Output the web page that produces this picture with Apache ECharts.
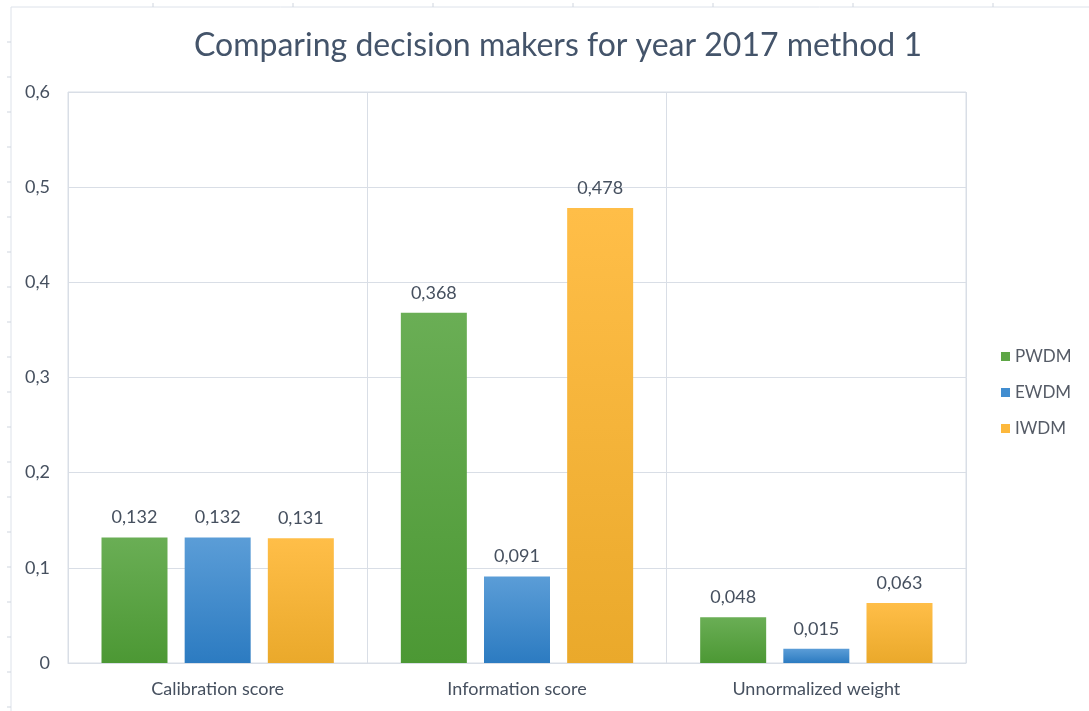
<!DOCTYPE html>
<html>
<head>
<meta charset="utf-8">
<script src="https://cdn.jsdelivr.net/npm/echarts@6/dist/echarts.min.js"></script>
<style>
  html, body { margin: 0; padding: 0; background: #ffffff; }
  #chart { width: 1089px; height: 711px; }
</style>
</head>
<body>
<div id="chart"></div>
<script>
// Scores per decision maker, 2017, method 1
const categories = ['Calibration score', 'Information score', 'Unnormalized weight'];
const pwdm = [0.132, 0.368, 0.048];
const ewdm = [0.132, 0.091, 0.015];
const iwdm = [0.131, 0.478, 0.063];
const yTicks = [0, 0.1, 0.2, 0.3, 0.4, 0.5, 0.6];

const FONT = 'Lato, Open Sans, sans-serif';
const TEXT = '#46505f';
const GRID = '#d9dee6';

function grad(top, bottom) {
  return new echarts.graphic.LinearGradient(0, 0, 0, 1, [
    { offset: 0, color: top },
    { offset: 1, color: bottom }
  ]);
}

const commaFmt = v => String(v).replace('.', ',');

function makeSeries(name, data, top, bottom) {
  return {
    name: name,
    type: 'bar',
    data: data,
    barWidth: 66,
    barGap: '26%',
    itemStyle: { color: grad(top, bottom) },
    label: {
      show: true,
      position: 'top',
      distance: 11,
      color: TEXT,
      fontFamily: FONT,
      fontSize: 18,
      formatter: p => p.value.toFixed(3).replace('.', ',')
    }
  };
}

// faint ruler along the left and top edges
const ruler = [];
ruler.push({ type: 'line', shape: { x1: 11, y1: 7, x2: 11, y2: 711 }, style: { stroke: '#dde2ea', lineWidth: 1 }, silent: true });
ruler.push({ type: 'line', shape: { x1: 11, y1: 7, x2: 1089, y2: 7 }, style: { stroke: '#dde2ea', lineWidth: 1 }, silent: true });
for (let y = 42; y < 711; y += 35) {
  ruler.push({ type: 'line', shape: { x1: 7, y1: y, x2: 11, y2: y }, style: { stroke: '#cfd5de', lineWidth: 1 }, silent: true });
}
for (let x = 153; x < 1089; x += 140) {
  ruler.push({ type: 'line', shape: { x1: x, y1: 3, x2: x, y2: 7 }, style: { stroke: '#cfd5de', lineWidth: 1 }, silent: true });
}

const chart = echarts.init(document.getElementById('chart'), null, { renderer: 'canvas' });
chart.setOption({
  animation: false,
  backgroundColor: '#ffffff',
  title: {
    text: 'Comparing decision makers for year 2017 method 1',
    left: 189,
    top: 25,
    textStyle: { fontFamily: FONT, fontSize: 32, fontWeight: 'normal', color: '#44546a' }
  },
  legend: {
    orient: 'vertical',
    left: 996,
    top: 343,
    itemWidth: 9,
    itemHeight: 9,
    itemGap: 19,
    icon: 'rect',
    textStyle: { fontFamily: FONT, fontSize: 17, color: '#555b66' },
    data: [
      { name: 'PWDM', itemStyle: { color: '#5ea646' } },
      { name: 'EWDM', itemStyle: { color: '#418dd0' } },
      { name: 'IWDM', itemStyle: { color: '#fdb83c' } }
    ]
  },
  grid: {
    left: 68, right: 123, top: 92, bottom: 48,
    show: true, borderColor: GRID, borderWidth: 1
  },
  xAxis: {
    type: 'category',
    data: categories,
    axisLine: { show: true, lineStyle: { color: GRID } },
    axisTick: { show: false },
    splitLine: { show: true, lineStyle: { color: GRID } },
    axisLabel: { color: TEXT, fontFamily: FONT, fontSize: 18, margin: 17 }
  },
  yAxis: {
    type: 'value',
    min: yTicks[0],
    max: yTicks[yTicks.length - 1],
    interval: 0.1,
    axisLine: { show: false },
    axisTick: { show: false },
    splitLine: { lineStyle: { color: GRID } },
    axisLabel: {
      color: TEXT, fontFamily: FONT, fontSize: 18, margin: 18,
      formatter: v => commaFmt(Math.round(v * 10) / 10)
    }
  },
  series: [
    makeSeries('PWDM', pwdm, '#6aae55', '#4c9834'),
    makeSeries('EWDM', ewdm, '#5b9dd7', '#2c7bc1'),
    makeSeries('IWDM', iwdm, '#ffbe48', '#eaa92b')
  ],
  graphic: ruler
});
</script>
</body>
</html>
